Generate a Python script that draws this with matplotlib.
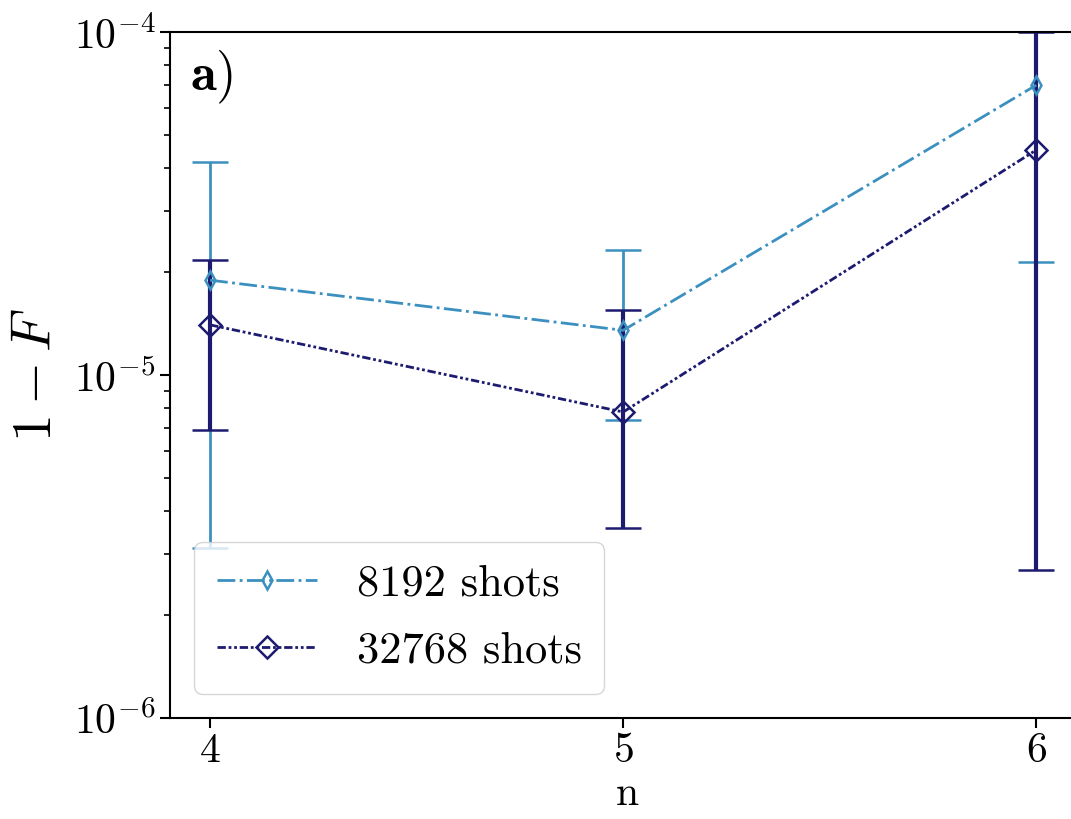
import numpy as np
import matplotlib
matplotlib.use('Agg')
import matplotlib.pyplot as plt

plt.rcParams['font.family'] = 'cmr10'
plt.rcParams['mathtext.fontset'] = 'cm'
plt.rcParams['axes.formatter.use_mathtext'] = True

n = [4, 5, 6]

# 8192 shots
inf_8192 = [1.89e-5, 1.35e-5, 7.0e-5]
lo_8192 = [3.13e-6, 7.4e-6, 2.13e-5]
hi_8192 = [4.18e-5, 2.31e-5, 1.2e-4]

# 32768 shots
inf_32768 = [1.40e-5, 7.8e-6, 4.53e-5]
lo_32768 = [6.9e-6, 3.58e-6, 2.7e-6]
hi_32768 = [2.16e-5, 1.55e-5, 1.0e-4]

c1 = '#3b90c0'
c2 = '#1d1b70'

fig = plt.figure(figsize=(10.71, 8.19), dpi=100)
ax = fig.add_axes([170/1071, 1 - 718/819, 915/1071, 686/819])

err1 = [np.array(inf_8192) - np.array(lo_8192), np.array(hi_8192) - np.array(inf_8192)]
err2 = [np.array(inf_32768) - np.array(lo_32768), np.array(hi_32768) - np.array(inf_32768)]

eb1 = ax.errorbar(n, inf_8192, yerr=err1, color=c1, ls='-.', lw=2, marker='d', ms=9,
                  mfc='none', mew=1.8, capsize=13, elinewidth=2, capthick=2)
eb2 = ax.errorbar(n, inf_32768, yerr=err2, color=c2, ls=(0, (3, 1, 1, 1, 1, 1)), lw=2, marker='D', ms=11,
                  mfc='none', mew=1.8, capsize=13, elinewidth=3, capthick=2)

ax.set_yscale('log')
ax.set_ylim(1e-6, 1e-4)
ax.set_xlim(3.903, 6.118)
ax.set_xticks([4, 5, 6])
ax.tick_params(axis='both', labelsize=30, width=1.5, length=7)
ax.tick_params(axis='y', which='minor', width=1.2, length=4)
ax.spines['right'].set_visible(False)
for s in ['left', 'bottom', 'top']:
    ax.spines[s].set_linewidth(1.5)

ax.set_xlabel('n', fontsize=30, labelpad=4)
ax.set_ylabel(r'$1-F$', fontsize=40, labelpad=8)
ax.text(0.022, 0.975, r'$\mathbf{a)}$', transform=ax.transAxes, fontsize=38, va='top')

leg = ax.legend([eb1[0], eb2[0]], ['8192 shots', '32768 shots'], loc='lower left', fontsize=32,
                handlelength=2.25, handletextpad=0.9, labelspacing=0.6, borderaxespad=0.55,
                borderpad=0.5, framealpha=0.8, fancybox=True)

fig.savefig('out.png', dpi=100)
